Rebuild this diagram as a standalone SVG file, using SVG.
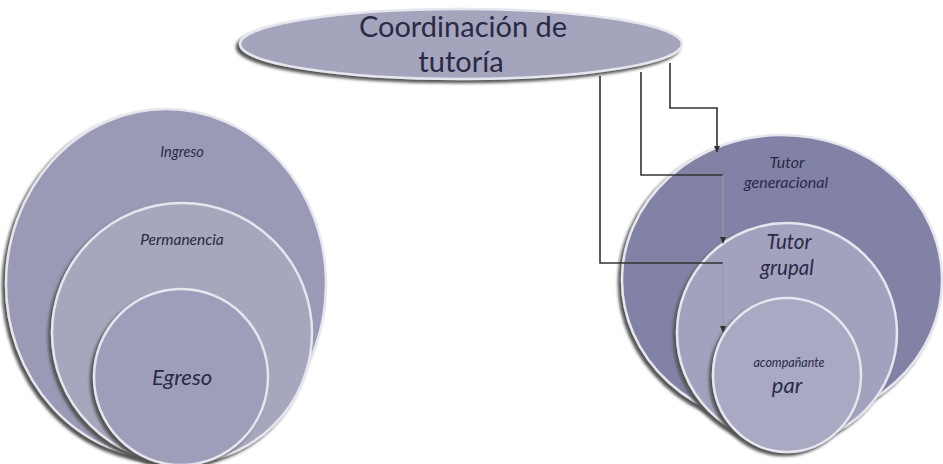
<svg xmlns="http://www.w3.org/2000/svg" width="943" height="464" viewBox="0 0 943 464">
<defs>
<filter id="sh" x="-10%" y="-10%" width="120%" height="120%">
<feGaussianBlur in="SourceAlpha" stdDeviation="1.5"/>
<feOffset dx="-3" dy="3" result="b"/>
<feFlood flood-color="#555"/>
<feComposite in2="b" operator="in"/>
<feMerge><feMergeNode/><feMergeNode in="SourceGraphic"/></feMerge>
</filter>
<marker id="ah" markerWidth="8" markerHeight="8" refX="6" refY="4" orient="auto" markerUnits="userSpaceOnUse">
<path d="M0,1 L7,4 L0,7 z" fill="#333"/>
</marker>
</defs>
<style>
.c{stroke:#e6e6ef;stroke-width:2.5;filter:url(#sh)}
.t{font-family:Lato,"Open Sans",sans-serif;font-style:italic;fill:#2a2a45;text-anchor:middle}
.h{font-family:Lato,"Open Sans",sans-serif;fill:#2a2a45;text-anchor:middle}
.ln{fill:none;stroke:#333;stroke-width:1.6}
.lt{fill:none;stroke:#999;stroke-width:1.2}
</style>
<rect width="943" height="464" fill="#fff"/>
<g id="coordinacion">
<ellipse class="c" cx="461" cy="44" rx="221" ry="35" fill="#a4a4bd"/>
<text class="h" x="463" y="37" font-size="29">Coordinación de</text>
<text class="h" x="461" y="72" font-size="29">tutoría</text>
</g>
<g id="ingreso">
<ellipse class="c" cx="166" cy="284" rx="160" ry="175" fill="#9a9ab6"/>
<text class="t" x="182" y="157" font-size="14.5">Ingreso</text>
</g>
<g id="permanencia">
<ellipse class="c" cx="182" cy="333" rx="130" ry="130" fill="#a6a6bd"/>
<text class="t" x="182" y="245" font-size="15.5">Permanencia</text>
</g>
<g id="egreso">
<ellipse class="c" cx="181" cy="377" rx="87" ry="88" fill="#9e9eba"/>
<text class="t" x="182" y="385" font-size="22">Egreso</text>
</g>
<g id="tutor-generacional">
<ellipse class="c" cx="782" cy="280" rx="160" ry="145" fill="#8282a6"/>
<text class="t" x="787" y="168" font-size="16">Tutor</text>
<text class="t" x="786" y="188" font-size="16">generacional</text>
</g>
<g id="tutor-grupal">
<ellipse class="c" cx="787" cy="333" rx="110" ry="110" fill="#a2a2bf"/>
<text class="t" x="789" y="249" font-size="20.5">Tutor</text>
<text class="t" x="787" y="275" font-size="20.5">grupal</text>
</g>
<g id="acompanante-par">
<ellipse class="c" cx="787" cy="375" rx="74" ry="77" fill="#a9a9c3"/>
<text class="t" x="789" y="367" font-size="12.5">acompañante</text>
<text class="t" x="787" y="393" font-size="22">par</text>
</g>
<g id="connectors">
<path class="ln" d="M670,63 V108 H717 V152" marker-end="url(#ah)"/>
<path class="ln" d="M641,72 V175 H723"/>
<path class="lt" d="M723,175 V243" marker-end="url(#ah)"/>
<path class="ln" d="M600,76 V263 H723"/>
<path class="lt" d="M723,263 V332" marker-end="url(#ah)"/>
</g>
</svg>
